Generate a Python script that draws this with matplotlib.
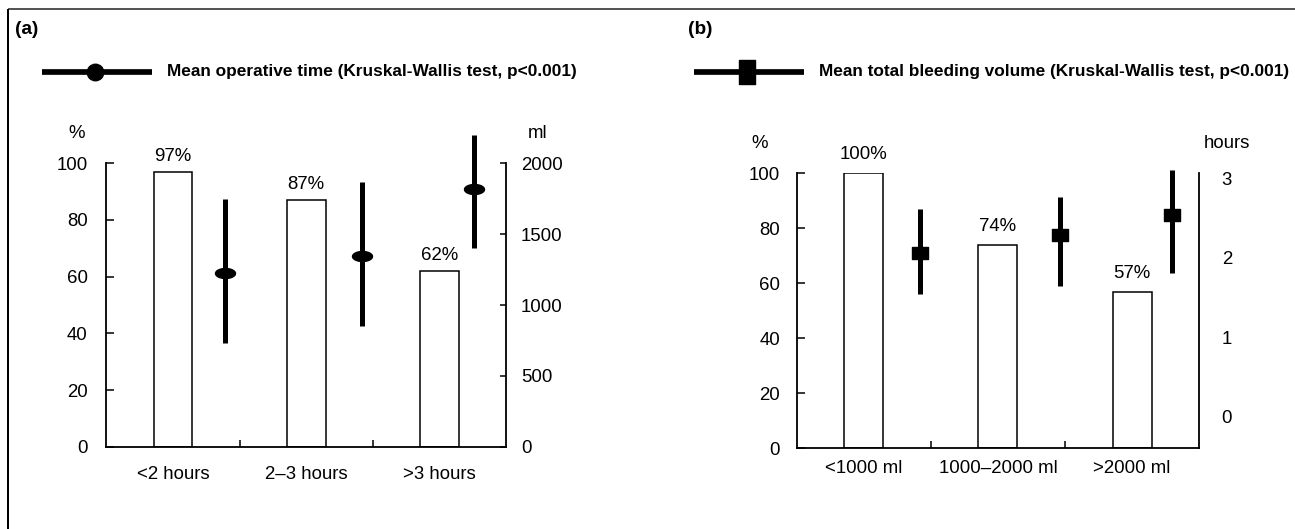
import numpy as np
import matplotlib
matplotlib.use('Agg')
import matplotlib.pyplot as plt
from matplotlib.path import Path

plt.rcParams['font.family'] = ['Liberation Sans', 'DejaVu Sans']

# ---------------- data ----------------
cats_a = ['<2 hours', '2\u20133 hours', '>3 hours']
pct_a = [97, 87, 62]
mark_x_a = [0.39, 1.415, 2.26]
mean_a = [1224, 1347, 1818]
low_a = [730, 851, 1401]
high_a = [1748, 1870, 2200]
yticks_a_left = [0, 20, 40, 60, 80, 100]
yticks_a_right = [0, 500, 1000, 1500, 2000]

cats_b = ['<1000 ml', '1000\u20132000 ml', '>2000 ml']
pct_b = [100, 74, 57]
mark_x_b = [0.42, 1.46, 2.30]
mean_b = [2.055, 2.28, 2.535]
low_b = [1.54, 1.64, 1.81]
high_b = [2.61, 2.76, 3.10]
yticks_b_left = [0, 20, 40, 60, 80, 100]
yticks_b_right = [0, 1, 2, 3]

legend_a = 'Mean operative time (Kruskal-Wallis test, p<0.001)'
legend_b = 'Mean total bleeding volume (Kruskal-Wallis test, p<0.001)'

# ---------------- figure ----------------
W, H = 1295, 529
DPI = 100
PT = 72.0 / DPI  # points per pixel
fig = plt.figure(figsize=(W / DPI, H / DPI), dpi=DPI)
FS = 13.4


def ellipse_marker(ax_ratio=2.0):
    t = np.linspace(0, 2 * np.pi, 60)
    verts = np.column_stack([ax_ratio * np.cos(t), np.sin(t)])
    return Path(verts, closed=True)


def rect_marker(w, h):
    verts = [(-w / 2, -h / 2), (w / 2, -h / 2), (w / 2, h / 2), (-w / 2, h / 2), (-w / 2, -h / 2)]
    return Path(verts, closed=True)


def make_panel(rect_px, cats, pct, mark_x, mean, low, high, yl_ticks, yr_ticks, yr_lim,
               marker, ms_px, lpad, rpad, rticklen, xpad, label_off, right_ticklabels=None):
    x0, y_top, x1, y_bot = rect_px
    ax = fig.add_axes([x0 / W, 1 - y_bot / H, (x1 - x0) / W, (y_bot - y_top) / H])
    ax2 = ax.twinx()
    x = np.arange(len(cats))
    ax.bar(x, pct, width=0.29, facecolor='white', edgecolor='black', linewidth=1.1, zorder=2)
    for xi, v in zip(x, pct):
        ax.annotate(f'{v}%', (xi, v), xytext=(0, label_off), textcoords='offset pixels',
                    ha='center', va='bottom', fontsize=FS)
    ax.set_xlim(-0.5, len(cats) - 0.5)
    ax.set_ylim(0, 100)
    ax.set_yticks(yl_ticks)
    ax.set_xticks(x)
    ax.set_xticklabels(cats)
    ax.set_xticks([0.5, 1.5], minor=True)
    ax.tick_params(axis='x', which='major', length=0, pad=xpad * PT, labelsize=FS)
    ax.tick_params(axis='x', which='minor', direction='in', length=7 * PT, width=1.1)
    ax.tick_params(axis='y', direction='in', length=8 * PT, width=1.1, pad=lpad * PT, labelsize=FS)
    for s in ['top', 'right']:
        ax.spines[s].set_visible(False)
    for s in ['left', 'bottom']:
        ax.spines[s].set_linewidth(1.3)

    ax2.vlines(mark_x, low, high, colors='black', linewidth=5 * PT, clip_on=False, zorder=3)
    ax2.plot(mark_x, mean, linestyle='none', marker=marker, markersize=ms_px * PT,
             color='black', clip_on=False, zorder=4)
    ax2.set_ylim(*yr_lim)
    ax2.set_yticks(yr_ticks)
    if right_ticklabels is not None:
        ax2.set_yticklabels(right_ticklabels)
    ax2.tick_params(axis='y', direction='in', length=rticklen * PT, width=1.1, pad=rpad * PT,
                    labelsize=FS)
    for s in ['top', 'left', 'bottom']:
        ax2.spines[s].set_visible(False)
    ax2.spines['right'].set_linewidth(1.3)
    return ax, ax2


make_panel((106.25, 163.3, 506.25, 446.7), cats_a, pct_a, mark_x_a, mean_a, low_a, high_a,
           yticks_a_left, yticks_a_right, (0, 2000), ellipse_marker(2.0), 20,
           lpad=18.5, rpad=14.5, rticklen=6, xpad=19, label_off=7)

make_panel((796.7, 173.3, 1199.2, 448.3), cats_b, pct_b, mark_x_b, mean_b, low_b, high_b,
           yticks_b_left, yticks_b_right, (-0.393, 3.059), rect_marker(16.7, 12.7), 16.7,
           lpad=16.5, rpad=22.5, rticklen=0, xpad=12, label_off=10)

# ---------------- overlay (pixel coords) ----------------
ov = fig.add_axes([0, 0, 1, 1], facecolor='none')
ov.set_xlim(0, W)
ov.set_ylim(H, 0)
ov.axis('off')

# figure frame (top and left lines)
ov.plot([8, W], [9, 9], color='#555555', linewidth=2 * PT, solid_capstyle='butt')
ov.plot([8, 8], [9, H], color='black', linewidth=2 * PT, solid_capstyle='butt')

# panel labels
ov.text(15, 29, '(a)', fontsize=13.7, fontweight='bold', ha='left', va='center')
ov.text(688, 29, '(b)', fontsize=13.7, fontweight='bold', ha='left', va='center')

# legends
ov.plot([41.7, 152], [71.7, 71.7], color='black', linewidth=5.7 * PT, solid_capstyle='butt')
ov.plot([95], [71.7], marker='o', markersize=16.5 * PT, color='black')
ov.text(167, 71.7, legend_a, fontsize=12.4, fontweight='bold', ha='left', va='center')

ov.plot([693.75, 804], [71.7, 71.7], color='black', linewidth=5.7 * PT, solid_capstyle='butt')
ov.plot([747], [71.7], marker=rect_marker(15.4, 24), markersize=24 * PT, color='black')
ov.text(818.75, 71.7, legend_b, fontsize=12.4, fontweight='bold', ha='left', va='center')

# axis unit labels
ov.text(77, 133.3, '%', fontsize=FS, ha='center', va='center')
ov.text(537.5, 133.3, 'ml', fontsize=FS, ha='center', va='center')
ov.text(760, 143.3, '%', fontsize=FS, ha='center', va='center')
ov.text(1227, 143.3, 'hours', fontsize=FS, ha='center', va='center')

fig.savefig('out.png', dpi=DPI, facecolor='white')
